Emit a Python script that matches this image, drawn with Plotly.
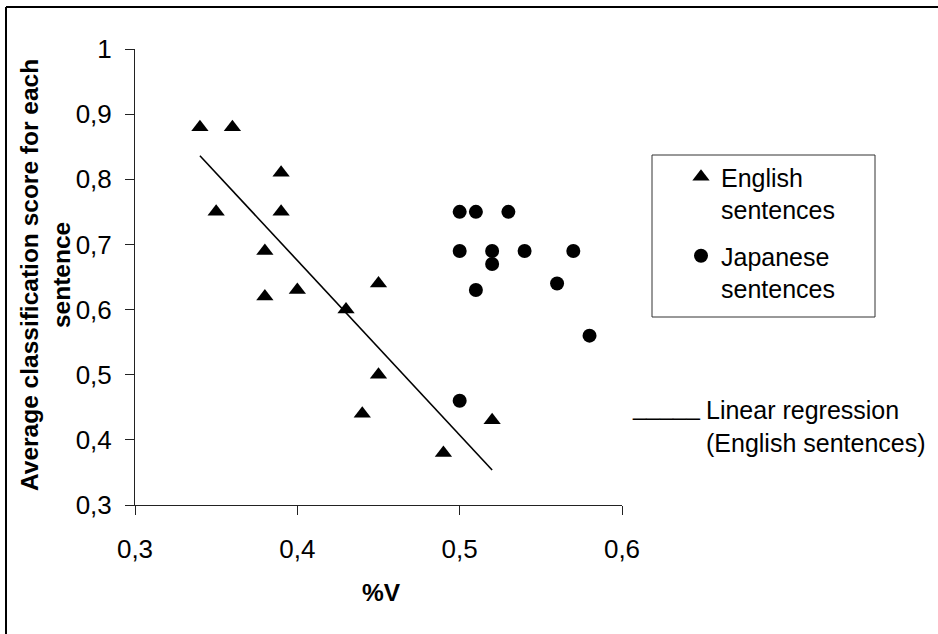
import numpy as np
import plotly.graph_objects as go

# ---- data ----
english_x = [0.34, 0.36, 0.35, 0.39, 0.39, 0.38, 0.38, 0.40, 0.43, 0.45, 0.45, 0.44, 0.49, 0.52]
english_y = [0.88, 0.88, 0.75, 0.81, 0.75, 0.69, 0.62, 0.63, 0.60, 0.64, 0.50, 0.44, 0.38, 0.43]
japanese_x = [0.50, 0.51, 0.53, 0.50, 0.52, 0.54, 0.57, 0.52, 0.51, 0.56, 0.58, 0.50]
japanese_y = [0.75, 0.75, 0.75, 0.69, 0.69, 0.69, 0.69, 0.67, 0.63, 0.64, 0.56, 0.46]

x_tickvals = [0.3, 0.4, 0.5, 0.6]
x_ticktext = ["0,3", "0,4", "0,5", "0,6"]
y_tickvals = [0.3, 0.4, 0.5, 0.6, 0.7, 0.8, 0.9, 1.0]
y_ticktext = ["0,3", "0,4", "0,5", "0,6", "0,7", "0,8", "0,9", "1"]

# linear regression of the English sentences
slope, intercept = np.polyfit(english_x, english_y, 1)
reg_x = [min(english_x), max(english_x)]
reg_y = [slope * v + intercept for v in reg_x]

FONT = "Liberation Sans, Arial, sans-serif"
W, H = 938, 634
L, R, T, B = 135, 316, 49, 129
PW, PH = W - L - R, H - T - B


def px(xp):
    return (xp - L) / PW


def py(yp):
    return (H - B - yp) / PH


fig = go.Figure()
fig.add_trace(go.Scatter(
    x=english_x, y=english_y, mode="markers", name="English<br>sentences",
    legendgroup="en",
    marker=dict(symbol="triangle-up", size=15, color="black"),
))
fig.add_trace(go.Scatter(
    x=japanese_x, y=japanese_y, mode="markers", name="Japanese<br>sentences",
    legendgroup="jp",
    marker=dict(symbol="circle", size=14, color="black"),
))
fig.add_trace(go.Scatter(
    x=reg_x, y=reg_y, mode="lines", showlegend=False,
    line=dict(color="black", width=1.6),
))

axis_common = dict(
    showgrid=False, zeroline=False, showline=True, linecolor="#222", linewidth=1,
    ticks="outside", ticklen=9, tickcolor="#222", tickwidth=1,
    tickfont=dict(family=FONT, size=26, color="black"),
)

fig.update_xaxes(range=[0.3, 0.6], tickvals=x_tickvals, ticktext=x_ticktext,
                 ticklabelstandoff=12, **axis_common)
fig.update_yaxes(range=[0.3, 1.0], tickvals=y_tickvals, ticktext=y_ticktext,
                 ticklabelstandoff=8, **axis_common)

shapes = [
    # outer frame (top and left edges)
    dict(type="line", xref="paper", yref="paper", x0=px(6), x1=px(945), y0=py(7), y1=py(7),
         line=dict(color="black", width=2)),
    dict(type="line", xref="paper", yref="paper", x0=px(6), x1=px(6), y0=py(7), y1=py(645),
         line=dict(color="black", width=2)),
    # legend box
    dict(type="rect", xref="paper", yref="paper", x0=px(652), x1=px(875), y0=py(317), y1=py(155),
         line=dict(color="#333", width=1)),
]

annotations = [
    dict(text="<b>Average classification score for each<br>sentence</b>", textangle=-90,
         xref="paper", yref="paper", x=px(45), y=py(275), xanchor="center", yanchor="middle",
         showarrow=False, font=dict(family=FONT, size=24.5, color="black")),
    dict(text="<b>%V</b>", xref="paper", yref="paper", x=px(381), y=py(592),
         xanchor="center", yanchor="middle", showarrow=False,
         font=dict(family=FONT, size=24.5, color="black")),
    dict(text="_____", xref="paper", yref="paper", x=px(702), y=py(406),
         xanchor="right", yanchor="middle", showarrow=False,
         font=dict(family=FONT, size=24, color="black")),
    dict(text="Linear regression<br>(English sentences)", xref="paper", yref="paper",
         x=px(704), y=py(426), xanchor="left", yanchor="middle", align="left", showarrow=False,
         font=dict(family=FONT, size=25, color="black")),
]

fig.update_layout(
    width=W, height=H,
    margin=dict(l=L, r=R, t=T, b=B, autoexpand=False),
    paper_bgcolor="white", plot_bgcolor="white",
    font=dict(family=FONT, size=25, color="black"),
    showlegend=True,
    legend=dict(x=px(681), y=py(154), xanchor="left", yanchor="top",
                bgcolor="rgba(0,0,0,0)", borderwidth=0, valign="top",
                font=dict(family=FONT, size=25, color="black"), tracegroupgap=11),
    shapes=shapes, annotations=annotations,
)

fig.write_html("out.html", config={"displayModeBar": False},
               post_script="document.body.style.margin='0px';")
